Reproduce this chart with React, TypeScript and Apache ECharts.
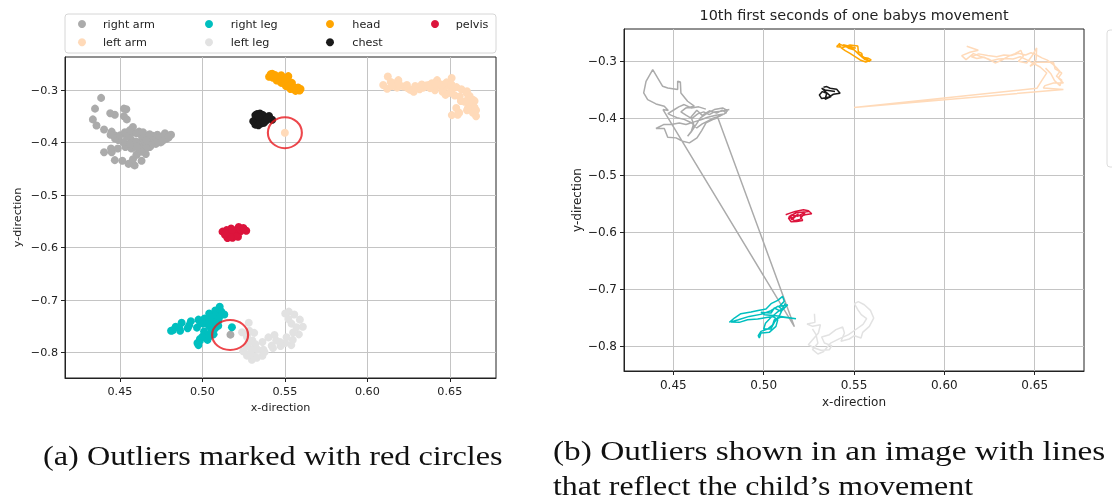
import React, { useEffect, useRef } from "react";
import * as echarts from "echarts";

const partNames = ["right arm", "left arm", "right leg", "left leg", "head", "chest", "pelvis"];
const partColors = ["#ababab", "#ffdab9", "#00bfbf", "#e2e2e2", "#ffa500", "#1a1a1a", "#dc143c"];

const rightArm = [
  [0.481, -0.3848], [0.4764, -0.3877], [0.4727, -0.3889], [0.4699, -0.3936], [0.4668, -0.3889],
  [0.4635, -0.3924], [0.4602, -0.4006], [0.457, -0.3947], [0.4542, -0.3889], [0.457, -0.3819],
  [0.4616, -0.3789], [0.4579, -0.3702], [0.4542, -0.3556], [0.4539, -0.3363], [0.4524, -0.3351],
  [0.4524, -0.3497], [0.4469, -0.3468], [0.4441, -0.3439], [0.4386, -0.3146], [0.4349, -0.3351],
  [0.4336, -0.3556], [0.4358, -0.3673], [0.4404, -0.3749], [0.445, -0.3789], [0.4472, -0.3865],
  [0.4443, -0.3848], [0.517, -0.766], [0.4747, -0.3994], [0.4718, -0.4023], [0.4681, -0.4082],
  [0.4657, -0.4216], [0.4631, -0.4345], [0.4589, -0.4433], [0.4552, -0.4404], [0.4515, -0.4345],
  [0.4469, -0.4333], [0.445, -0.4181], [0.4404, -0.4181], [0.4446, -0.4111], [0.4487, -0.4111],
  [0.4533, -0.4082], [0.457, -0.4111], [0.4616, -0.4064], [0.4657, -0.4023], [0.469, -0.3982],
  [0.4736, -0.3947], [0.4782, -0.3924], [0.4801, -0.3865], [0.4773, -0.3819], [0.4727, -0.3848],
  [0.469, -0.3906], [0.465, -0.3994], [0.4626, -0.4111], [0.4602, -0.4228], [0.4579, -0.4316],
  [0.46, -0.4228], [0.4612, -0.41], [0.4598, -0.398], [0.463, -0.386], [0.466, -0.395],
  [0.47, -0.387], [0.474, -0.391], [0.477, -0.386], [0.4795, -0.39], [0.476, -0.396],
  [0.472, -0.4], [0.469, -0.405], [0.466, -0.41], [0.463, -0.417], [0.46, -0.408],
  [0.456, -0.402], [0.452, -0.399], [0.449, -0.395], [0.447, -0.392], [0.45, -0.386],
  [0.453, -0.38], [0.456, -0.376], [0.46, -0.382], [0.464, -0.38], [0.468, -0.384],
];

const leftArm = [
  [0.6124, -0.2737], [0.6188, -0.2807], [0.6142, -0.2842], [0.6096, -0.2901], [0.612, -0.2971],
  [0.6161, -0.2865], [0.6197, -0.2912], [0.6244, -0.2959], [0.6281, -0.3029], [0.6317, -0.2982],
  [0.6354, -0.2912], [0.6391, -0.2865], [0.6423, -0.2807], [0.6437, -0.2912], [0.641, -0.3],
  [0.6456, -0.3029], [0.6484, -0.2912], [0.6511, -0.2766], [0.6508, -0.2971], [0.6474, -0.3088],
  [0.6511, -0.3018], [0.6604, -0.3018], [0.6613, -0.3135], [0.665, -0.3205], [0.6631, -0.3292],
  [0.6659, -0.338], [0.6604, -0.338], [0.6557, -0.3427], [0.6548, -0.3468], [0.6659, -0.3497],
  [0.55, -0.381], [0.6512, -0.3474], [0.6539, -0.3339], [0.6567, -0.3205], [0.653, -0.31],
  [0.65, -0.305], [0.646, -0.298], [0.642, -0.292], [0.638, -0.296], [0.634, -0.295],
  [0.63, -0.296], [0.626, -0.299], [0.622, -0.293], [0.618, -0.295], [0.615, -0.292],
  [0.619, -0.287], [0.624, -0.29], [0.629, -0.292], [0.633, -0.289], [0.637, -0.29],
  [0.641, -0.286], [0.645, -0.289], [0.648, -0.285], [0.651, -0.289], [0.654, -0.294],
  [0.657, -0.298], [0.66, -0.305], [0.662, -0.311], [0.664, -0.318], [0.662, -0.326],
  [0.665, -0.333], [0.664, -0.343], [0.661, -0.334], [0.659, -0.322], [0.656, -0.312],
];

const rightLeg = [
  [0.481, -0.7585], [0.4838, -0.7509], [0.4874, -0.7433], [0.493, -0.7404], [0.4976, -0.7374],
  [0.5013, -0.7351], [0.5041, -0.7257], [0.5078, -0.7199], [0.5105, -0.7129], [0.5114, -0.7216],
  [0.5087, -0.7304], [0.5133, -0.7275], [0.5096, -0.7392], [0.5059, -0.7333], [0.5041, -0.7421],
  [0.4985, -0.7409], [0.5004, -0.745], [0.5068, -0.7468], [0.5179, -0.752], [0.5096, -0.7491],
  [0.5059, -0.7538], [0.505, -0.7626], [0.5022, -0.7702], [0.4985, -0.7743], [0.497, -0.7819],
  [0.4976, -0.786], [0.4985, -0.7772], [0.5031, -0.776], [0.5068, -0.7655], [0.5078, -0.7538],
  [0.505, -0.748], [0.4967, -0.7526], [0.4911, -0.7538], [0.4865, -0.7585], [0.4819, -0.7579],
  [0.486, -0.754], [0.492, -0.748], [0.499, -0.744], [0.504, -0.738], [0.508, -0.73],
  [0.51, -0.735], [0.507, -0.742], [0.504, -0.75], [0.501, -0.76], [0.5, -0.77],
  [0.504, -0.77], [0.506, -0.758], [0.509, -0.745], [0.512, -0.725],
];

const leftLeg = [
  [0.5281, -0.7433], [0.5284, -0.7585], [0.524, -0.7614], [0.5271, -0.7655], [0.5314, -0.7626],
  [0.5303, -0.7772], [0.5271, -0.7889], [0.5247, -0.7977], [0.5281, -0.8035], [0.5317, -0.8076],
  [0.5364, -0.8064], [0.5377, -0.7994], [0.5336, -0.7947], [0.5321, -0.7842], [0.5364, -0.7801],
  [0.54, -0.7713], [0.5437, -0.7667], [0.5447, -0.7772], [0.5428, -0.7918], [0.5474, -0.7877],
  [0.5502, -0.7819], [0.5539, -0.786], [0.5548, -0.776], [0.5585, -0.7655], [0.5609, -0.7509],
  [0.5591, -0.7374], [0.5557, -0.7275], [0.5524, -0.7222], [0.5502, -0.7257], [0.5521, -0.7363],
  [0.554, -0.745], [0.557, -0.752], [0.555, -0.762], [0.551, -0.771], [0.547, -0.78],
  [0.542, -0.787], [0.537, -0.795], [0.533, -0.81], [0.53, -0.814], [0.527, -0.806],
  [0.53, -0.795], [0.529, -0.78], [0.527, -0.77],
];

const head = [
  [0.5423, -0.2684], [0.5404, -0.2743], [0.5441, -0.2754], [0.5478, -0.2713], [0.5521, -0.2731],
  [0.5524, -0.283], [0.5543, -0.286], [0.5547, -0.293], [0.558, -0.2947], [0.5595, -0.2977],
  [0.5565, -0.3012], [0.5534, -0.2977], [0.5506, -0.2918], [0.5478, -0.286], [0.5451, -0.2813],
  [0.5428, -0.276], [0.5414, -0.2696], [0.546, -0.2743], [0.5497, -0.2789], [0.5524, -0.2871],
  [0.5558, -0.2965], [0.5589, -0.3006], [0.557, -0.296], [0.554, -0.29], [0.552, -0.285],
  [0.55, -0.28], [0.547, -0.277], [0.544, -0.271], [0.548, -0.274], [0.551, -0.277],
];

const chest = [
  [0.5331, -0.3456], [0.5349, -0.3444], [0.5368, -0.3474], [0.5404, -0.3491], [0.5423, -0.3561],
  [0.5386, -0.3579], [0.5358, -0.3632], [0.5321, -0.3655], [0.5308, -0.3591], [0.5325, -0.3532],
  [0.5349, -0.3561], [0.534, -0.3667], [0.5373, -0.362], [0.5321, -0.3474], [0.534, -0.3503],
  [0.5395, -0.3532],
];

const pelvis = [
  [0.5122, -0.5696], [0.5146, -0.5667], [0.5174, -0.5637], [0.522, -0.5608], [0.5248, -0.5626],
  [0.5266, -0.5678], [0.5229, -0.5696], [0.5202, -0.5725], [0.5216, -0.5795], [0.5183, -0.5813],
  [0.5152, -0.5819], [0.5137, -0.5754], [0.5165, -0.5737], [0.5193, -0.5678], [0.5155, -0.5784],
  [0.515, -0.57], [0.519, -0.572], [0.523, -0.565], [0.52, -0.578], [0.517, -0.58],
  [0.514, -0.573], [0.518, -0.566], [0.525, -0.564],
];

const outlierMarks = [
  { value: [0.55, -0.381], size: [34, 31] },
  { value: [0.5168, -0.7667], size: [36, 30] },
];

const xTicks = [0.45, 0.5, 0.55, 0.6, 0.65];
const yTicks = [-0.8, -0.7, -0.6, -0.5, -0.4, -0.3];

const chartTitle = "10th first seconds of one babys movement";
const captionA = "(a) Outliers marked with red circles";
const captionB1 = "(b) Outliers shown in an image with lines";
const captionB2 = "that reflect the child\u2019s movement";

const parts = [rightArm, leftArm, rightLeg, leftLeg, head, chest, pelvis];

const FONT = "DejaVu Sans";
const TXT = "#222";

function xAxisFor(gridIndex: number, min: number, max: number, fs: number, gap: number) {
  return {
    type: "value",
    gridIndex,
    min,
    max,
    name: "x-direction",
    nameLocation: "middle",
    nameGap: gap,
    nameTextStyle: { fontFamily: FONT, fontSize: fs, color: TXT },
    axisLine: { show: true, onZero: false, lineStyle: { color: "#222", width: 1 } },
    axisTick: { show: true, length: 4, customValues: xTicks, lineStyle: { color: "#222" } },
    axisLabel: {
      customValues: xTicks,
      margin: 8,
      fontFamily: FONT,
      fontSize: fs,
      color: TXT,
      formatter: (v: number) => v.toFixed(2),
    },
    splitLine: { show: true, lineStyle: { color: "#c4c4c4", width: 1 } },
  };
}

function yAxisFor(gridIndex: number, min: number, max: number, fs: number, gap: number) {
  return {
    type: "value",
    gridIndex,
    min,
    max,
    name: "y-direction",
    nameLocation: "middle",
    nameGap: gap,
    nameTextStyle: { fontFamily: FONT, fontSize: fs, color: TXT },
    axisLine: { show: true, onZero: false, lineStyle: { color: "#222", width: 1 } },
    axisTick: { show: true, length: 4, customValues: yTicks, lineStyle: { color: "#222" } },
    axisLabel: {
      customValues: yTicks,
      margin: 7,
      fontFamily: FONT,
      fontSize: fs,
      color: TXT,
      formatter: (v: number) => (v < 0 ? "\u2212" : "") + Math.abs(v).toFixed(1),
    },
    splitLine: { show: true, lineStyle: { color: "#c4c4c4", width: 1 } },
  };
}

const legendCols = [
  { names: ["right arm", "left arm"], left: 78, pad: 12 },
  { names: ["right leg", "left leg"], left: 205, pad: 12.7 },
  { names: ["head", "chest"], left: 326, pad: 13.3 },
  { names: ["pelvis"], left: 431, pad: 11.7 },
];

function caption(text: string, x: number, y: number, sx: number) {
  return {
    type: "text",
    x,
    y,
    scaleX: sx,
    style: { text, fontFamily: "Liberation Serif", fontSize: 28, fill: "#111", textAlign: "left", textVerticalAlign: "middle" },
  };
}

export default function App() {
  const ref = useRef<HTMLDivElement>(null);
  useEffect(() => {
    if (!ref.current) return;
    const chart = echarts.init(ref.current, undefined, { renderer: "svg" });

    const scatterSeries = parts.map((d, i) => ({
      type: "scatter",
      name: partNames[i],
      xAxisIndex: 0,
      yAxisIndex: 0,
      data: d,
      symbol: "circle",
      symbolSize: 8,
      itemStyle: { color: partColors[i], opacity: 1 },
      z: 2 + i,
    }));
    const lineSeries = parts.map((d, i) => ({
      type: "line",
      name: partNames[i],
      xAxisIndex: 1,
      yAxisIndex: 1,
      data: d,
      showSymbol: false,
      symbol: "none",
      lineStyle: { color: partColors[i], width: 1.5 },
      itemStyle: { color: partColors[i] },
      z: 2 + i,
    }));

    const option: any = {
      animation: false,
      textStyle: { fontFamily: FONT },
      grid: [
        { left: 65, top: 57, width: 431, height: 321, show: true, borderColor: "#222", borderWidth: 1, backgroundColor: "transparent" },
        { left: 624, top: 29, width: 460, height: 342, show: true, borderColor: "#222", borderWidth: 1, backgroundColor: "transparent" },
      ],
      xAxis: [xAxisFor(0, 0.4167, 0.678, 11.2, 23), xAxisFor(1, 0.4227, 0.6773, 12, 24)],
      yAxis: [yAxisFor(0, -0.8487, -0.2366, 11.2, 42), yAxisFor(1, -0.8439, -0.2433, 12, 41)],
      legend: legendCols.map((c) => ({
        data: c.names,
        orient: "vertical",
        left: c.left,
        top: 18,
        padding: 0,
        itemWidth: 8,
        itemHeight: 8,
        itemGap: 6.3,
        icon: "circle",
        selectedMode: false,
        textStyle: {
          fontFamily: FONT,
          fontSize: 11.2,
          color: TXT,
          lineHeight: 12,
          padding: [0, 0, 0, c.pad],
        },
      })),
      series: [
        ...scatterSeries,
        {
          type: "scatter",
          name: "outlier marks",
          xAxisIndex: 0,
          yAxisIndex: 0,
          symbol: "path://M0,50A50,50,0,1,1,100,50A50,50,0,1,1,0,50Z",
          data: outlierMarks.map((m) => ({ value: m.value, symbolSize: m.size })),
          itemStyle: { color: "rgba(0,0,0,0)", borderColor: "#e8191f", borderWidth: 2 },
          z: 20,
        },
        ...lineSeries,
      ],
      graphic: [
        {
          type: "rect",
          z: -1,
          shape: { x: 65, y: 14, width: 431, height: 39, r: 3 },
          style: { fill: "#fff", stroke: "#d6d6d6", lineWidth: 1 },
        },
        {
          type: "rect",
          z: -1,
          shape: { x: 1107, y: 30, width: 60, height: 137, r: 3 },
          style: { fill: "#fff", stroke: "#dcdcdc", lineWidth: 1 },
        },
        {
          type: "text",
          x: 854,
          y: 15,
          style: { text: chartTitle, fontFamily: FONT, fontSize: 14.4, fill: TXT, textAlign: "center", textVerticalAlign: "middle" },
        },
        caption(captionA, 43, 456, 1.153),
        caption(captionB1, 553, 451, 1.19),
        caption(captionB2, 553, 485, 1.14),
      ],
    };
    chart.setOption(option);
    return () => chart.dispose();
  }, []);
  return <div ref={ref} style={{ position: "fixed", left: 0, top: 0, width: 1112, height: 500 }} />;
}
